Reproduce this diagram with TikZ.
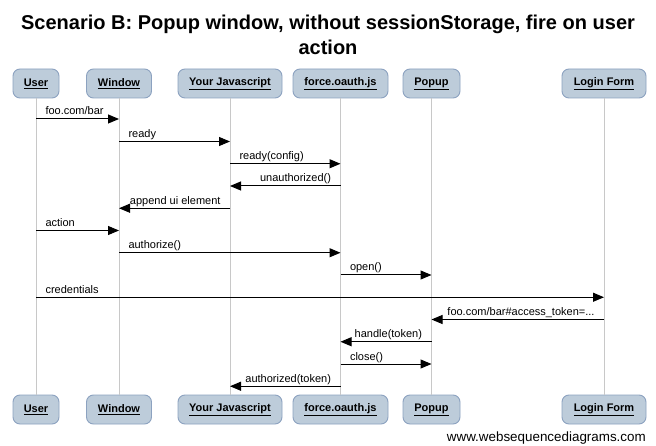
\documentclass[tikz,border=0pt]{standalone}
\usepackage{fontspec}
\setmainfont{Liberation Sans}
\usetikzlibrary{arrows.meta}
\definecolor{boxfill}{RGB}{189,204,218}
\definecolor{boxdraw}{RGB}{140,162,192}
\definecolor{lifegray}{RGB}{200,200,200}
\begin{document}
\begin{tikzpicture}[x=1pt,y=-1pt,
  part/.style={draw=boxdraw, fill=boxfill, rounded corners=7pt, line width=0.9pt,
    minimum height=29pt, inner sep=0pt, font=\fontsize{11}{13}\selectfont\bfseries},
  life/.style={draw=lifegray, line width=0.9pt},
  msg/.style={draw=black, line width=1pt, -{Triangle[length=11pt,width=9pt]}},
  rl/.style={anchor=base west, inner sep=0pt, xshift=9pt, yshift=4pt, font=\fontsize{11}{13}\selectfont},
  ll/.style={anchor=base east, inner sep=0pt, xshift=-9pt, yshift=4pt, font=\fontsize{11}{13}\selectfont}]
\useasboundingbox[fill=white] (0,0) rectangle (656,446);

% title
\node[align=center, font=\fontsize{20}{25}\selectfont\bfseries, inner sep=0pt] (title) at (328,35)
  {Scenario B: Popup window, without sessionStorage, fire on user\\action};

% participants top
\node[part, minimum width=46pt]  (uT) at (36,83.5)  {\underline{User}};
\node[part, minimum width=65pt]  (wT) at (119,83.5) {\underline{Window}};
\node[part, minimum width=104pt] (jT) at (230,83.5) {\underline{Your Javascript}};
\node[part, minimum width=95pt]  (fT) at (340.5,83.5) {\underline{force.oauth.js}};
\node[part, minimum width=57pt]  (pT) at (431.5,83.5) {\underline{Popup}};
\node[part, minimum width=84pt]  (lT) at (604,83.5) {\underline{Login Form}};
% participants bottom
\node[part, minimum width=46pt]  (uB) at (36,409.5)  {\underline{User}};
\node[part, minimum width=65pt]  (wB) at (119,409.5) {\underline{Window}};
\node[part, minimum width=104pt] (jB) at (230,409.5) {\underline{Your Javascript}};
\node[part, minimum width=95pt]  (fB) at (340.5,409.5) {\underline{force.oauth.js}};
\node[part, minimum width=57pt]  (pB) at (431.5,409.5) {\underline{Popup}};
\node[part, minimum width=84pt]  (lB) at (604,409.5) {\underline{Login Form}};

% lifelines
\foreach \a/\b in {uT/uB,wT/wB,jT/jB,fT/fB,pT/pB,lT/lB}
  \draw[life] (\a.south) -- (\b.north);

% message levels
\coordinate (y1) at (0,119);
\coordinate (y2) at (0,141.5);
\coordinate (y3) at (0,163.75);
\coordinate (y4) at (0,186);
\coordinate (y5) at (0,208.25);
\coordinate (y6) at (0,230.5);
\coordinate (y7) at (0,252.75);
\coordinate (y8) at (0,275);
\coordinate (y9) at (0,297.25);
\coordinate (y10) at (0,319.5);
\coordinate (y11) at (0,341.75);
\coordinate (y12) at (0,364);
\coordinate (y13) at (0,386.25);

\draw[msg] (uT |- y1) -- (wT |- y1) node[pos=0, rl] {foo.com/bar};
\draw[msg] (wT |- y2) -- (jT |- y2) node[pos=0, rl] {ready};
\draw[msg] (jT |- y3) -- (fT |- y3) node[pos=0, rl] {ready(config)};
\draw[msg] (fT |- y4) -- (jT |- y4) node[pos=0, ll] {unauthorized()};
\draw[msg] (jT |- y5) -- (wT |- y5) node[pos=0, ll] {append ui element};
\draw[msg] (uT |- y6) -- (wT |- y6) node[pos=0, rl] {action};
\draw[msg] (wT |- y7) -- (fT |- y7) node[pos=0, rl] {authorize()};
\draw[msg] (fT |- y8) -- (pT |- y8) node[pos=0, rl] {open()};
\draw[msg] (uT |- y9) -- (lT |- y9) node[pos=0, rl] {credentials};
\draw[msg] (lT |- y10) -- (pT |- y10) node[pos=0, ll] {foo.com/bar\#access\_token=...};
\draw[msg] (pT |- y11) -- (fT |- y11) node[pos=0, ll] {handle(token)};
\draw[msg] (fT |- y12) -- (pT |- y12) node[pos=0, rl] {close()};
\draw[msg] (fT |- y13) -- (jT |- y13) node[pos=0, ll] {authorized(token)};

% watermark
\node[anchor=east, inner sep=0pt, font=\fontsize{13.4}{15}\selectfont] (wm) at (646,438) {www.websequencediagrams.com};
\end{tikzpicture}
\end{document}
